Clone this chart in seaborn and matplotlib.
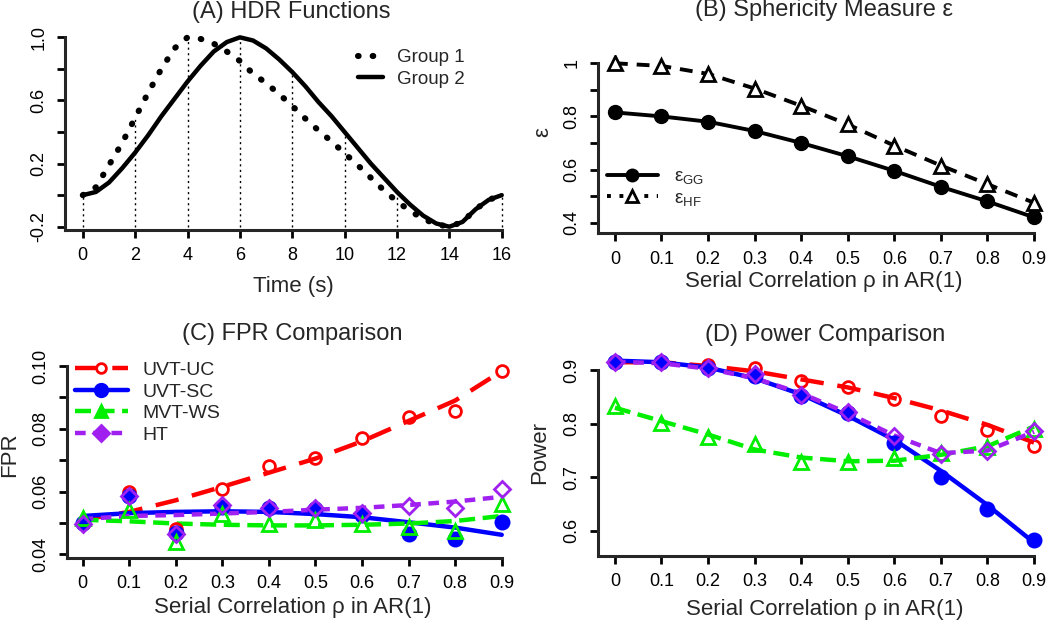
import numpy as np
import matplotlib
matplotlib.use("Agg")
import matplotlib.pyplot as plt
from matplotlib.lines import Line2D
import seaborn as sns

# ---------------- data ----------------
time_s = [0, 0.5, 1, 1.5, 2, 2.5, 3, 3.5, 4, 4.5, 5, 5.5, 6, 6.5, 7, 7.5, 8,
          8.5, 9, 9.5, 10, 10.5, 11, 11.5, 12, 12.5, 13, 13.5, 14, 14.5, 15, 15.5, 16]
hdr_group1 = [0.0, 0.05, 0.19, 0.33, 0.49, 0.65, 0.80, 0.93, 1.0, 0.99, 0.96, 0.91, 0.85,
              0.77, 0.71, 0.64, 0.565, 0.485, 0.41, 0.34, 0.265, 0.19, 0.11, 0.03, -0.04,
              -0.10, -0.15, -0.185, -0.20, -0.17, -0.09, -0.03, 0.0]
hdr_group2 = [0.0, 0.02, 0.08, 0.17, 0.27, 0.38, 0.50, 0.61, 0.72, 0.82, 0.91, 0.97, 1.0,
              0.98, 0.93, 0.86, 0.78, 0.69, 0.59, 0.50, 0.40, 0.30, 0.20, 0.11, 0.02,
              -0.06, -0.13, -0.18, -0.20, -0.17, -0.09, -0.03, 0.0]

rho = [0, 0.1, 0.2, 0.3, 0.4, 0.5, 0.6, 0.7, 0.8, 0.9]
rho_labels = ["0", "0.1", "0.2", "0.3", "0.4", "0.5", "0.6", "0.7", "0.8", "0.9"]

eps_gg = [0.815, 0.80, 0.78, 0.745, 0.70, 0.65, 0.595, 0.535, 0.48, 0.42]
eps_hf = [1.0, 0.99, 0.96, 0.905, 0.84, 0.77, 0.69, 0.615, 0.545, 0.475]

methods = ["UVT-UC", "UVT-SC", "MVT-WS", "HT"]

# FPR: observed points and smoothed curves
fpr_uc = [0.050, 0.060, 0.048, 0.0607, 0.0681, 0.0708, 0.077, 0.0838, 0.0857, 0.0984]
fpr_sc = [0.050, 0.0586, 0.0469, 0.0552, 0.0546, 0.0545, 0.0525, 0.0466, 0.045, 0.0504]
fpr_ws = [0.0515, 0.054, 0.0439, 0.0527, 0.0496, 0.0508, 0.0497, 0.0487, 0.0474, 0.0561]
fpr_ht = [0.0495, 0.0586, 0.0464, 0.0557, 0.0549, 0.0548, 0.0533, 0.0554, 0.0549, 0.0607]
fpr_uc_fit = [0.051, 0.0535, 0.0572, 0.0615, 0.066, 0.0705, 0.076, 0.0825, 0.089, 0.0984]
fpr_sc_fit = [0.0522, 0.0531, 0.0535, 0.0537, 0.0535, 0.0528, 0.0518, 0.0502, 0.0485, 0.0462]
fpr_ws_fit = [0.051, 0.0505, 0.0498, 0.0494, 0.0492, 0.0492, 0.0494, 0.0498, 0.0506, 0.0522]
fpr_ht_fit = [0.0512, 0.0522, 0.0525, 0.053, 0.0535, 0.0542, 0.0548, 0.0557, 0.0568, 0.0583]

# Power: observed points and smoothed curves
pow_uc = [0.915, 0.915, 0.91, 0.904, 0.88, 0.869, 0.846, 0.815, 0.788, 0.759]
pow_sc = [0.915, 0.915, 0.905, 0.89, 0.852, 0.821, 0.765, 0.70, 0.64, 0.583]
pow_ws = [0.833, 0.802, 0.776, 0.762, 0.729, 0.729, 0.737, 0.745, 0.756, 0.79]
pow_ht = [0.915, 0.915, 0.905, 0.893, 0.853, 0.822, 0.777, 0.743, 0.75, 0.787]
pow_uc_fit = [0.915, 0.915, 0.908, 0.898, 0.883, 0.868, 0.848, 0.825, 0.798, 0.765]
pow_sc_fit = [0.918, 0.915, 0.905, 0.885, 0.855, 0.815, 0.77, 0.712, 0.648, 0.578]
pow_ws_fit = [0.83, 0.805, 0.78, 0.752, 0.737, 0.73, 0.731, 0.742, 0.758, 0.795]
pow_ht_fit = [0.916, 0.913, 0.903, 0.885, 0.857, 0.82, 0.778, 0.745, 0.75, 0.785]

# ---------------- style ----------------
sns.set_style("ticks")
plt.rcParams["font.family"] = ["Liberation Sans", "DejaVu Sans"]
plt.rcParams["mathtext.fontset"] = "custom"
plt.rcParams["mathtext.rm"] = "Liberation Sans"
plt.rcParams["mathtext.it"] = "Liberation Sans"

W, H = 1050, 622
fig = plt.figure(figsize=(W / 100, H / 100), dpi=100)


def rect(left, top, right, bottom):
    return [left / W, 1 - bottom / H, (right - left) / W, (bottom - top) / H]


def txt(x, y, s, size, rot=0):
    fig.text(x / W, 1 - y / H, s, fontsize=size, ha="center", va="center", rotation=rot)


def style_axes(ax, xlim, ylim, xticks, xlabels, yticks, ylabels):
    sns.despine(ax=ax)
    ax.set_xlim(xlim)
    ax.set_ylim(ylim)
    ax.set_xticks(xticks)
    ax.set_xticklabels(xlabels)
    ax.set_yticks(yticks)
    ax.set_yticklabels(ylabels, rotation=90, va="center")
    ax.spines["left"].set_bounds(ylim[0], yticks[-1])
    ax.spines["bottom"].set_bounds(xlim[0], xticks[-1])
    for s in ["left", "bottom"]:
        ax.spines[s].set_linewidth(2.2)
    ax.tick_params(length=5.5, width=2, labelsize=13, pad=7, colors="black")
    ax.set_xlabel("")
    ax.set_ylabel("")


col = {"UVT-UC": "#FF0000", "UVT-SC": "#0000FF", "MVT-WS": "#00EE00", "HT": "#A020F0"}
dash = {"UVT-UC": (0, (5.3, 3.1)), "UVT-SC": "-", "MVT-WS": (0, (3.6, 1.7)),
        "HT": (0, (2.4, 1.7))}
mk = {"UVT-UC": ("o", "none", 8.5), "UVT-SC": ("o", "fill", 9.5),
      "MVT-WS": ("^", "none", 10), "HT": ("D", "none", 8)}
dotted = (0, (0.1, 2.3))

# ---------------- (A) HDR Functions ----------------
axA = fig.add_axes(rect(65, 32.6, 518.5, 230))
even = [i for i, t in enumerate(time_s) if t % 2 == 0]
axA.vlines([time_s[i] for i in even], -0.2,
           [max(hdr_group1[i], hdr_group2[i]) for i in even],
           color="black", lw=1, linestyles=(0, (1.5, 2.5)))
sns.lineplot(x=time_s, y=hdr_group2, ax=axA, color="black", lw=3.2, sort=False)
sns.lineplot(x=time_s, y=hdr_group1, ax=axA, color="black", lw=4.4,
             linestyle=dotted, dash_capstyle="round", sort=False)
style_axes(axA, (-0.68, 16.64), (-0.221, 1.03), list(range(0, 17, 2)),
           [str(t) for t in range(0, 17, 2)], [-0.2, 0, 0.2, 0.4, 0.6, 0.8, 1.0],
           ["-0.2", "", "0.2", "", "0.6", "", "1.0"])
hA = [Line2D([], [], color="black", lw=4.4, linestyle=dotted, dash_capstyle="round"),
      Line2D([], [], color="black", lw=3.2)]
axA.legend(hA, ["Group 1", "Group 2"], loc="upper left", frameon=False, fontsize=13.5,
           bbox_to_anchor=(358 / W, 1 - 49 / H), bbox_transform=fig.transFigure,
           borderpad=0, borderaxespad=0, handlelength=1.35, handletextpad=0.72,
           labelspacing=0.25)
txt(291.7, 12.3, "(A) HDR Functions", 17)
txt(293, 286.7, "Time (s)", 16)

# ---------------- (B) Sphericity ----------------
axB = fig.add_axes(rect(597.7, 55.3, 1048, 233.3))
sns.lineplot(x=rho, y=eps_hf, ax=axB, color="black", lw=2.8, linestyle=(0, (3.3, 2.3)),
             marker="^", markersize=10.5, markerfacecolor="white",
             markeredgecolor="black", markeredgewidth=2, sort=False)
sns.lineplot(x=rho, y=eps_gg, ax=axB, color="black", lw=2.8, marker="o", markersize=10,
             markeredgecolor="black", markeredgewidth=1, sort=False)
style_axes(axB, (-0.037, 0.93), (0.36, 1.03), rho, rho_labels,
           [0.4, 0.5, 0.6, 0.7, 0.8, 0.9, 1.0], ["0.4", "", "0.6", "", "0.8", "", "1"])
hB = [Line2D([], [], color="black", lw=2.8, marker="o", ms=9),
      Line2D([], [], color="black", lw=2.8, linestyle=(0, (1.0, 2.2)), marker="^", ms=8,
             mfc="white", mew=2)]
axB.legend(hB, [r"ε$_{\mathrm{GG}}$", r"ε$_{\mathrm{HF}}$"], loc="upper left",
           frameon=False, fontsize=13.5, bbox_to_anchor=(606.7 / W, 1 - 168 / H),
           bbox_transform=fig.transFigure, borderpad=0, borderaxespad=0,
           handlelength=2.75, handletextpad=0.85, labelspacing=0.2)
txt(824, 10, "(B) Sphericity Measure ε", 17)
txt(824, 281.7, "Serial Correlation ρ in AR(1)", 16)
txt(543, 131.7, "ε", 16, rot=90)


def draw_compare(ax, pts, fits):
    for m in methods:
        sns.lineplot(x=rho, y=fits[m], ax=ax, color=col[m], lw=3.2, linestyle=dash[m],
                     sort=False)
    for m in methods:
        shape, fill, size = mk[m]
        sns.lineplot(x=rho, y=pts[m], ax=ax, linestyle="", marker=shape, markersize=size,
                     color=col[m], markerfacecolor=col[m] if fill == "fill" else "none",
                     markeredgecolor=col[m], markeredgewidth=2, sort=False)


# ---------------- (C) FPR ----------------
axC = fig.add_axes(rect(66.7, 351, 515.7, 557.7))
draw_compare(axC, {"UVT-UC": fpr_uc, "UVT-SC": fpr_sc, "MVT-WS": fpr_ws, "HT": fpr_ht},
             {"UVT-UC": fpr_uc_fit, "UVT-SC": fpr_sc_fit, "MVT-WS": fpr_ws_fit,
              "HT": fpr_ht_fit})
style_axes(axC, (-0.034, 0.93), (0.0389, 0.1048), rho, rho_labels,
           [0.04, 0.05, 0.06, 0.07, 0.08, 0.09, 0.10],
           ["0.04", "", "0.06", "", "0.08", "", "0.10"])
legend_marker = {"UVT-UC": ("o", "white", 7), "UVT-SC": ("o", None, 9),
                 "MVT-WS": ("^", None, 9), "HT": ("D", None, 8)}
hC = []
for m in methods:
    shape, face, size = legend_marker[m]
    hC.append(Line2D([], [], color=col[m], lw=3.2, linestyle=dash[m], marker=shape, ms=size,
                     mfc=face if face else col[m], mec=col[m], mew=2))
axC.legend(hC, methods, loc="upper left", frameon=False, fontsize=14,
           bbox_to_anchor=(75 / W, 1 - 361.5 / H), bbox_transform=fig.transFigure,
           borderpad=0, borderaxespad=0, handlelength=2.7, handletextpad=0.75,
           labelspacing=0.2)
txt(292.5, 334.3, "(C) FPR Comparison", 17)
txt(292.5, 607.7, "Serial Correlation ρ in AR(1)", 16)
txt(10, 454.3, "FPR", 16, rot=90)

# ---------------- (D) Power ----------------
axD = fig.add_axes(rect(597.7, 351, 1048, 556))
draw_compare(axD, {"UVT-UC": pow_uc, "UVT-SC": pow_sc, "MVT-WS": pow_ws, "HT": pow_ht},
             {"UVT-UC": pow_uc_fit, "UVT-SC": pow_sc_fit, "MVT-WS": pow_ws_fit,
              "HT": pow_ht_fit})
style_axes(axD, (-0.037, 0.93), (0.553, 0.936), rho, rho_labels,
           [0.6, 0.7, 0.8, 0.9], ["0.6", "0.7", "0.8", "0.9"])
txt(825, 335, "(D) Power Comparison", 17)
txt(825, 609, "Serial Correlation ρ in AR(1)", 16)
txt(540, 452.7, "Power", 16, rot=90)

fig.savefig("out.png", dpi=100)
